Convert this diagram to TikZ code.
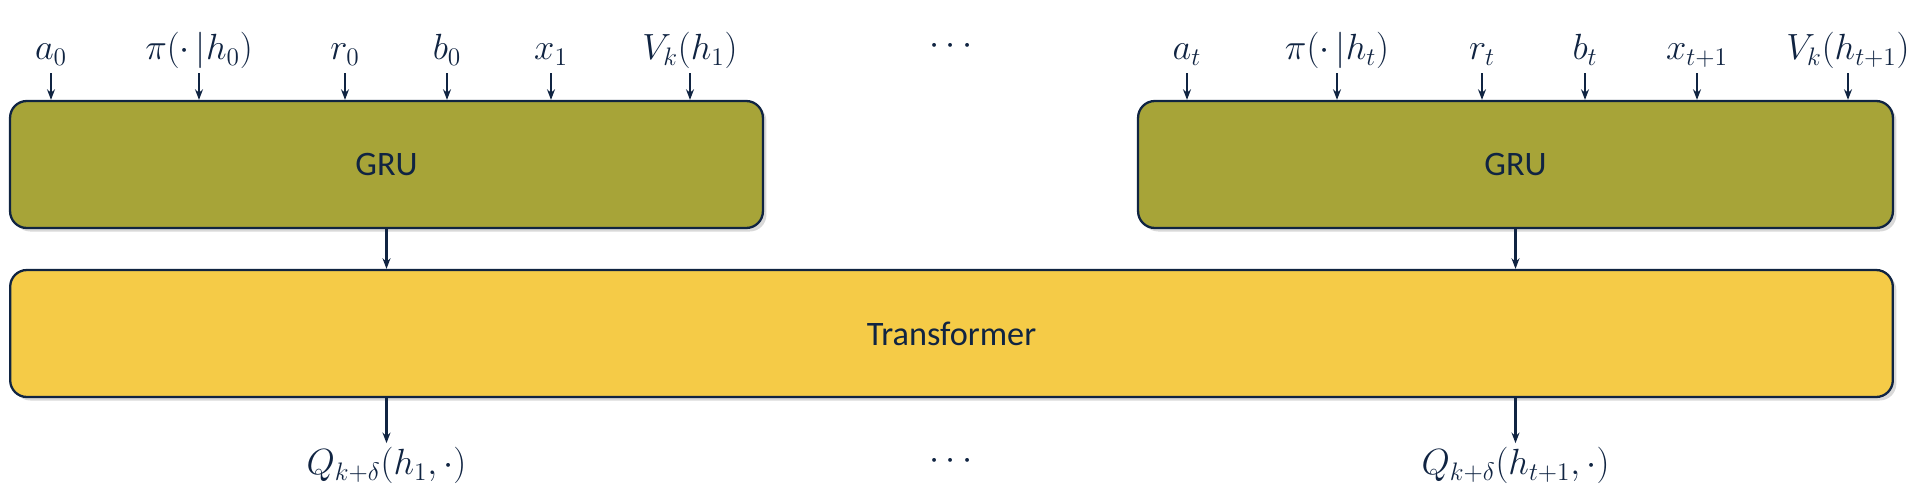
\documentclass[tikz,border=0pt]{standalone}
\usepackage[no-math]{fontspec}
\setmainfont{Carlito}
\usetikzlibrary{arrows.meta,shadows}

\definecolor{navy}{RGB}{16,36,66}
\definecolor{gruolive}{RGB}{167,164,56}
\definecolor{trfyellow}{RGB}{245,203,71}

\tikzset{
  block/.style={draw=navy, line width=1.3pt, rounded corners=9.5pt, inner sep=0pt,
    drop shadow={opacity=0.3, shadow xshift=2pt, shadow yshift=-2pt},
    text=navy, font=\fontsize{19.5}{23}\selectfont},
  inlbl/.style={inner sep=0pt, text=navy, text height=15pt, text depth=5pt,
    font=\fontsize{21}{25}\selectfont},
  arr/.style={-{Stealth[length=6pt,width=4.5pt]}, draw=navy, line width=1.2pt},
}

\begin{document}
\begin{tikzpicture}[x=0.02cm, y=-0.02cm]
    \useasboundingbox (0,0) rectangle (1918,494);

    % Blocks
    \node[block, fill=gruolive, minimum width=15.06cm, minimum height=2.54cm] (gru1) at (386.5,164.5) {GRU};
    \node[block, fill=gruolive, minimum width=15.1cm, minimum height=2.54cm] (gru2) at (1515.5,164.5) {GRU};
    \node[block, fill=trfyellow, minimum width=37.66cm, minimum height=2.54cm] (trf) at (951.5,333.5) {Transformer};

    % Inputs of the first step
    \node[inlbl] (a0) at (51,51) {$a_0$};
    \node[inlbl] (pi0) at (199,51) {$\pi(\cdot\,|h_0)$};
    \node[inlbl] (r0) at (345,51) {$r_0$};
    \node[inlbl] (b0) at (447,51) {$b_0$};
    \node[inlbl] (x1) at (551,51) {$x_1$};
    \node[inlbl] (v1) at (690,51) {$V_k(h_1)$};
    \draw[arr, shorten <=2.5pt] (a0.south) -- (a0.south |- gru1.north);
    \draw[arr, shorten <=2.5pt] (pi0.south) -- (pi0.south |- gru1.north);
    \draw[arr, shorten <=2.5pt] (r0.south) -- (r0.south |- gru1.north);
    \draw[arr, shorten <=2.5pt] (b0.south) -- (b0.south |- gru1.north);
    \draw[arr, shorten <=2.5pt] (x1.south) -- (x1.south |- gru1.north);
    \draw[arr, shorten <=2.5pt] (v1.south) -- (v1.south |- gru1.north);

    % Inputs of step t
    \node[inlbl] (at) at (1187,51) {$a_t$};
    \node[inlbl] (pit) at (1337,51) {$\pi(\cdot\,|h_t)$};
    \node[inlbl] (rt) at (1482,51) {$r_t$};
    \node[inlbl] (bt) at (1585,51) {$b_t$};
    \node[inlbl] (xt) at (1697,51) {$x_{t+1}$};
    \node[inlbl] (vt) at (1848,51) {$V_k(h_{t+1})$};
    \draw[arr, shorten <=2.5pt] (at.south) -- (at.south |- gru2.north);
    \draw[arr, shorten <=2.5pt] (pit.south) -- (pit.south |- gru2.north);
    \draw[arr, shorten <=2.5pt] (rt.south) -- (rt.south |- gru2.north);
    \draw[arr, shorten <=2.5pt] (bt.south) -- (bt.south |- gru2.north);
    \draw[arr, shorten <=2.5pt] (xt.south) -- (xt.south |- gru2.north);
    \draw[arr, shorten <=2.5pt] (vt.south) -- (vt.south |- gru2.north);

    % GRU -> Transformer
    \draw[arr] (gru1.south) -- (gru1.south |- trf.north);
    \draw[arr] (gru2.south) -- (gru2.south |- trf.north);

    % Outputs
    \node[inlbl] (q1) at (386.5,466) {$Q_{k+\delta}(h_1,\cdot)$};
    \node[inlbl] (qt) at (1515.5,466) {$Q_{k+\delta}(h_{t+1},\cdot)$};
    \draw[arr, shorten >=2.8pt] (q1.north |- trf.south) -- (q1.north);
    \draw[arr, shorten >=2.8pt] (qt.north |- trf.south) -- (qt.north);

    % Dots
    \node[anchor=base, text=navy, font=\fontsize{20}{24}\selectfont] (dtop) at (951,54) {$\cdots$};
    \node[anchor=base, text=navy, font=\fontsize{20}{24}\selectfont] (dbot) at (951,469) {$\cdots$};
\end{tikzpicture}
\end{document}
